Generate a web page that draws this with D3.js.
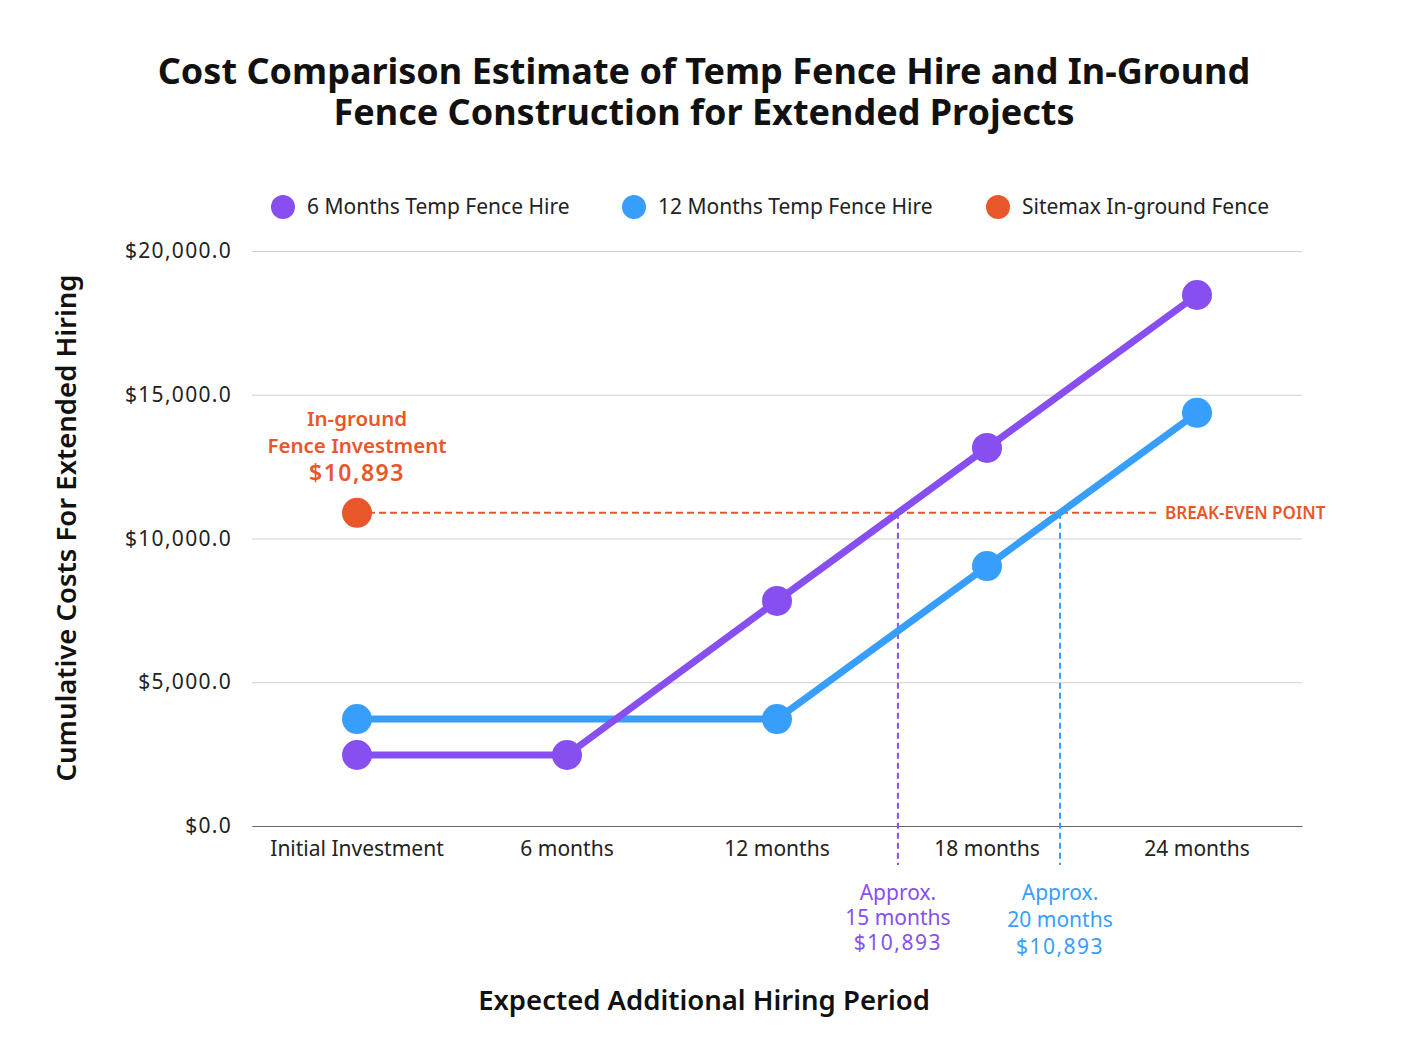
<!DOCTYPE html>
<html>
<head>
<meta charset="utf-8">
<script src="https://cdn.jsdelivr.net/npm/d3@7"></script>
<style>
  body { margin: 0; background: #fff; }
  svg text { font-family: "Noto Sans", "Open Sans", sans-serif; }
</style>
</head>
<body>
<div id="chart"></div>
<script>
// data
const categories = ["Initial Investment", "6 months", "12 months", "18 months", "24 months"];
const sixMonthHire = [2470, 2470, 7830, 13150, 18470];
const twelveMonthHire = [3720, null, 3720, 9040, 14370]; // no marker at 6 months, line spans the gap
const inGroundCost = 10893;
const yTicks = [0, 5000, 10000, 15000, 20000];
const seriesNames = ["6 Months Temp Fence Hire", "12 Months Temp Fence Hire", "Sitemax In-ground Fence"];
const seriesColors = ["#874FF0", "#389EFC", "#E8572A"];

const W = 1408, H = 1056;
const margin = {top: 251, right: 106, bottom: 230, left: 252};
const width = W - margin.left - margin.right;
const height = H - margin.top - margin.bottom;

const svg = d3.select("#chart").append("svg")
  .attr("width", W)
  .attr("height", H);

// title
svg.append("text")
  .attr("x", 704).attr("y", 84)
  .attr("text-anchor", "middle")
  .style("font-size", "36px").style("font-weight", "bold").attr("fill", "#111")
  .selectAll("tspan")
  .data(["Cost Comparison Estimate of Temp Fence Hire and In-Ground", "Fence Construction for Extended Projects"])
  .enter().append("tspan")
  .attr("x", 704)
  .attr("dy", (d, i) => i === 0 ? 0 : 41)
  .text(d => d);

const g = svg.append("g").attr("transform", `translate(${margin.left},${margin.top})`);

const x = d3.scaleBand().domain(categories).range([0, width]).padding(0);
const y = d3.scaleLinear().domain([0, 20000]).range([height, 0]);
const cx = d => x(d) + x.bandwidth() / 2;

// gridlines
g.append("g")
  .call(d3.axisLeft(y).tickValues(yTicks).tickSize(-width).tickFormat(""))
  .call(a => a.select(".domain").remove())
  .call(a => a.selectAll("line").attr("stroke", "#d0d0d0").attr("stroke-width", 1.2));

// y labels
g.append("g")
  .call(d3.axisLeft(y).tickValues(yTicks).tickSize(0).tickPadding(20)
    .tickFormat(d => "$" + d3.format(",.1f")(d)))
  .call(a => a.select(".domain").remove())
  .call(a => a.selectAll("text").style("font-size", "21px").style("letter-spacing", "1.3px").attr("fill", "#222"));

// x axis
g.append("g")
  .attr("transform", `translate(0,${height})`)
  .call(d3.axisBottom(x).tickSize(0).tickPadding(15))
  .call(a => a.select(".domain").attr("stroke", "#666").attr("stroke-width", 1.2))
  .call(a => a.selectAll("text").style("font-size", "21px").attr("fill", "#222"));

// axis titles
svg.append("text")
  .attr("x", 704).attr("y", 1010)
  .attr("text-anchor", "middle")
  .style("font-size", "27.5px").style("font-weight", "600").attr("fill", "#111")
  .text("Expected Additional Hiring Period");

svg.append("text")
  .attr("transform", "translate(76,528) rotate(-90)")
  .attr("text-anchor", "middle")
  .style("font-size", "27.5px").style("font-weight", "600").attr("fill", "#111")
  .text("Cumulative Costs For Extended Hiring");

// series points with nulls dropped (line spans gaps)
const pts = values => values
  .map((v, i) => ({cat: categories[i], v}))
  .filter(d => d.v != null);

// where a series crosses the in-ground cost
function crossing(values) {
  const p = pts(values);
  for (let i = 1; i < p.length; i++) {
    const a = p[i - 1], b = p[i];
    if (a.v < inGroundCost && b.v >= inGroundCost) {
      const t = (inGroundCost - a.v) / (b.v - a.v);
      return cx(a.cat) + t * (cx(b.cat) - cx(a.cat));
    }
  }
  return null;
}

// break-even line
const beEnd = width - 145;
g.append("line")
  .attr("x1", cx(categories[0])).attr("x2", beEnd)
  .attr("y1", y(inGroundCost)).attr("y2", y(inGroundCost))
  .attr("stroke", seriesColors[2]).attr("stroke-width", 2).attr("stroke-dasharray", "7,4");
g.append("text")
  .attr("x", beEnd + 8).attr("y", y(inGroundCost) + 6)
  .style("font-size", "17px").style("font-weight", "600").attr("fill", seriesColors[2])
  .text("BREAK-EVEN POINT");

// vertical dashed lines + notes
const notes = [
  {values: sixMonthHire, color: seriesColors[0], lines: ["Approx.", "15 months", "$10,893"], dy: 25},
  {values: twelveMonthHire, color: seriesColors[1], lines: ["Approx.", "20 months", "$10,893"], dy: 27}
];
notes.forEach(n => {
  const xc = crossing(n.values);
  g.append("line")
    .attr("x1", xc).attr("x2", xc)
    .attr("y1", y(inGroundCost)).attr("y2", height + 39)
    .attr("stroke", n.color).attr("stroke-width", 2).attr("stroke-dasharray", "6,4");
  g.append("text")
    .attr("text-anchor", "middle")
    .attr("y", height + 74)
    .style("font-size", "21px").attr("fill", n.color)
    .selectAll("tspan").data(n.lines).enter().append("tspan")
    .attr("x", xc)
    .attr("dy", (d, i) => i === 0 ? 0 : n.dy)
    .style("letter-spacing", d => d.startsWith("$") ? "1.5px" : null)
    .text(d => d);
});

// series lines
const line = d3.line().x(d => cx(d.cat)).y(d => y(d.v));
[[twelveMonthHire, seriesColors[1]], [sixMonthHire, seriesColors[0]]].forEach(([vals, col]) => {
  const p = pts(vals);
  g.append("path")
    .datum(p)
    .attr("fill", "none")
    .attr("stroke", col).attr("stroke-width", 7)
    .attr("stroke-linejoin", "round")
    .attr("d", line);
  g.selectAll(null)
    .data(p).enter().append("circle")
    .attr("cx", d => cx(d.cat))
    .attr("cy", d => y(d.v))
    .attr("r", 15)
    .attr("fill", col);
});

// in-ground point
g.append("circle")
  .attr("cx", cx(categories[0])).attr("cy", y(inGroundCost))
  .attr("r", 15).attr("fill", seriesColors[2]);

g.append("text")
  .attr("text-anchor", "middle")
  .attr("y", y(inGroundCost) - 87)
  .attr("fill", seriesColors[2]).style("font-weight", "600")
  .selectAll("tspan")
  .data([["In-ground", 20.5, 0, 0], ["Fence Investment", 20.5, 27, 0], ["$10,893", 23, 28, 1.5]])
  .enter().append("tspan")
  .attr("x", cx(categories[0]))
  .attr("dy", d => d[2])
  .style("font-size", d => d[1] + "px")
  .style("letter-spacing", d => d[3] + "px")
  .text(d => d[0]);

// legend
const legendX = [283, 634, 998];
const legend = svg.append("g");
seriesNames.forEach((name, i) => {
  legend.append("circle")
    .attr("cx", legendX[i]).attr("cy", 207).attr("r", 12)
    .attr("fill", seriesColors[i]);
  legend.append("text")
    .attr("x", legendX[i] + 24).attr("y", 214)
    .style("font-size", "21px").attr("fill", "#222")
    .text(name);
});
</script>
</body>
</html>
